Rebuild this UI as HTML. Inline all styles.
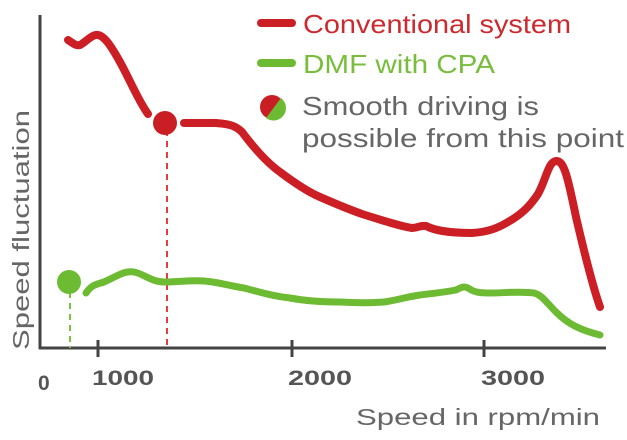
<!DOCTYPE html>
<html><head><style>body{margin:0;background:#fff}svg{display:block}</style></head><body>
<svg width="627" height="440" viewBox="0 0 627 440" xmlns="http://www.w3.org/2000/svg" font-family="Liberation Sans, sans-serif">
<line x1="40" y1="15" x2="40" y2="349" stroke="#444" stroke-width="3"/>
<line x1="39" y1="348" x2="606" y2="348" stroke="#444" stroke-width="3"/>
<g stroke="#444" stroke-width="3"><line x1="98" y1="340" x2="98" y2="357"/><line x1="292" y1="340" x2="292" y2="357"/><line x1="484" y1="340" x2="484" y2="357"/></g>
<g font-weight="bold" fill="#555" font-size="21"><text x="38" y="390">0</text><text x="92" y="385" textLength="62" lengthAdjust="spacingAndGlyphs">1000</text><text x="288" y="385" textLength="64" lengthAdjust="spacingAndGlyphs">2000</text><text x="481" y="385" textLength="64" lengthAdjust="spacingAndGlyphs">3000</text></g>
<text x="356" y="425" font-size="23" fill="#666" textLength="244" lengthAdjust="spacingAndGlyphs">Speed in rpm/min</text>
<text transform="translate(29,350) rotate(-90)" font-size="23" fill="#666" textLength="240" lengthAdjust="spacingAndGlyphs">Speed fluctuation</text>
<line x1="167" y1="130" x2="167" y2="348" stroke="#e0403a" stroke-width="2" stroke-dasharray="6,5"/>
<line x1="70" y1="292" x2="70" y2="348" stroke="#7cc142" stroke-width="2" stroke-dasharray="6,5"/>
<path d="M68,40 C74,44 76,46 80,45 C86,42 92,34 98,35 C104,36 110,44 120,62 C130,80 138,100 148,114 M184,123 L216,123 C230,124 236,126 242,132 C254,148 266,162 280,172 C296,184 308,192 320,197 C336,204 348,209 362,214 C384,221 400,226 412,228 C418,228 420,225 426,226 C434,230 446,233 472,233 C488,232 498,228 508,222 C522,214 530,206 538,194 C546,180 548,162 556,161 C564,160 568,178 576,217 C586,260 594,290 600,307" fill="none" stroke="#cc1f25" stroke-width="8" stroke-linecap="round" stroke-linejoin="round"/>
<path d="M86,293 C92,284 98,284 104,282 C114,278 124,270 134,272 C144,274 152,282 164,282 C178,282 190,280 204,281 C218,282 230,286 244,288 C260,292 272,296 290,298 C306,301 320,302 340,302 C356,303 370,303 384,302 C398,300 406,297 420,295 C436,293 446,292 456,290 C462,287 464,286 468,288 C474,292 478,293 490,293 C504,293 520,291 534,293 C542,295 546,302 556,312 C568,324 580,330 600,335" fill="none" stroke="#6dbb33" stroke-width="7" stroke-linecap="round" stroke-linejoin="round"/>
<circle cx="165" cy="123" r="12" fill="#c81e24"/>
<circle cx="69" cy="282" r="12" fill="#6dbb33"/>
<line x1="261" y1="23" x2="292" y2="23" stroke="#cc1f25" stroke-width="8" stroke-linecap="round"/>
<line x1="261" y1="63" x2="292" y2="63" stroke="#6dbb33" stroke-width="8" stroke-linecap="round"/>
<text x="303" y="33" font-size="26" fill="#cc2a2e" textLength="268" lengthAdjust="spacingAndGlyphs">Conventional system</text>
<text x="303" y="73" font-size="26" fill="#78be3c" textLength="192" lengthAdjust="spacingAndGlyphs">DMF with CPA</text>
<circle cx="272" cy="107" r="12" fill="#c81e24"/>
<path d="M266,118 L281,98 A12,12 0 0 1 266,118 Z" fill="#6dbb33"/>
<text x="302" y="115" font-size="26" fill="#666" textLength="237" lengthAdjust="spacingAndGlyphs">Smooth driving is</text>
<text x="302" y="147" font-size="26" fill="#666" textLength="322" lengthAdjust="spacingAndGlyphs">possible from this point</text>
</svg>
</body></html>
